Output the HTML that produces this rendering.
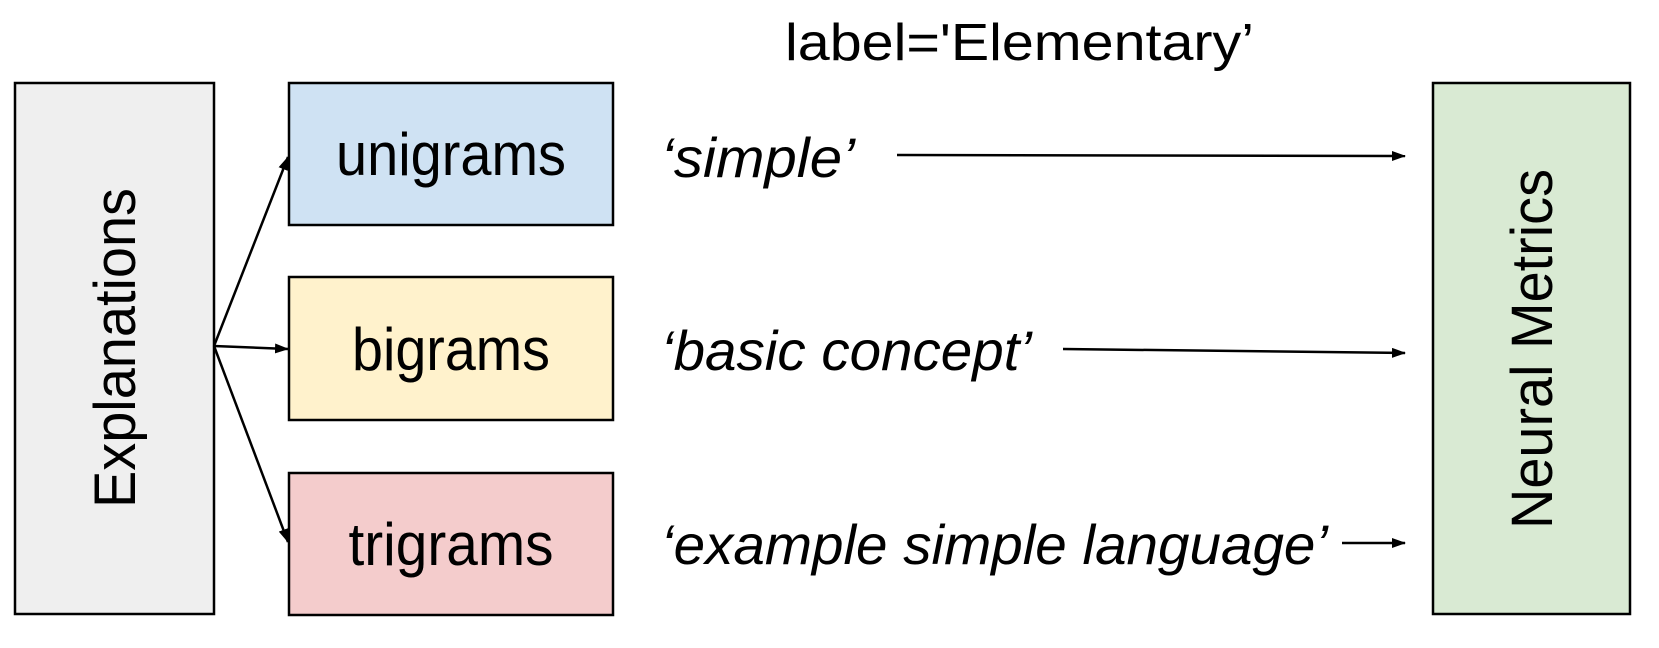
<!DOCTYPE html>
<html><head><style>
html,body{margin:0;padding:0;background:#fff;width:1659px;height:648px;overflow:hidden}
svg text{font-family:"Liberation Sans",Arial,sans-serif;fill:#000}
</style></head><body>
<svg width="1659" height="648" viewBox="0 0 1659 648" xmlns="http://www.w3.org/2000/svg">
<defs><marker id="a" markerWidth="14" markerHeight="10" refX="13" refY="5" orient="auto" markerUnits="userSpaceOnUse"><path d="M0,0 L14,5 L0,10 z" fill="#000"/></marker></defs>
<text x="785" y="60" font-size="52" textLength="469" lengthAdjust="spacingAndGlyphs">label='Elementary’</text>
<rect x="15" y="83" width="199" height="531" fill="#efefef" stroke="#000" stroke-width="2.5"/>
<text transform="translate(135,348) rotate(-90)" text-anchor="middle" font-size="58" textLength="320" lengthAdjust="spacingAndGlyphs">Explanations</text>
<rect x="289" y="83" width="324" height="142" fill="#cfe2f3" stroke="#000" stroke-width="2.5"/>
<rect x="289" y="277" width="324" height="143" fill="#fff2cc" stroke="#000" stroke-width="2.5"/>
<rect x="289" y="473" width="324" height="142" fill="#f4cccc" stroke="#000" stroke-width="2.5"/>
<text x="451" y="175" text-anchor="middle" font-size="60" textLength="230" lengthAdjust="spacingAndGlyphs">unigrams</text>
<text x="451" y="370" text-anchor="middle" font-size="60" textLength="198" lengthAdjust="spacingAndGlyphs">bigrams</text>
<text x="451" y="565" text-anchor="middle" font-size="60" textLength="205" lengthAdjust="spacingAndGlyphs">trigrams</text>
<rect x="1433" y="83" width="197" height="531" fill="#d9ead3" stroke="#000" stroke-width="2.5"/>
<text transform="translate(1552,349) rotate(-90)" text-anchor="middle" font-size="58" textLength="360" lengthAdjust="spacingAndGlyphs">Neural Metrics</text>
<g font-style="italic" font-size="56">
<text x="661" y="177" textLength="194" lengthAdjust="spacingAndGlyphs">‘simple’</text>
<text x="661" y="370" textLength="371" lengthAdjust="spacingAndGlyphs">‘basic concept’</text>
<text x="661" y="564" textLength="667" lengthAdjust="spacingAndGlyphs">‘example simple language’</text>
</g>
<g stroke="#000" stroke-width="2.5" fill="none" marker-end="url(#a)">
<line x1="214" y1="346" x2="288" y2="157"/>
<line x1="214" y1="346" x2="288" y2="349"/>
<line x1="214" y1="346" x2="288" y2="542"/>
<line x1="897" y1="155" x2="1405" y2="156"/>
<line x1="1063" y1="349" x2="1405" y2="353"/>
<line x1="1342" y1="543" x2="1405" y2="543"/>
</g>
</svg>
</body></html>
